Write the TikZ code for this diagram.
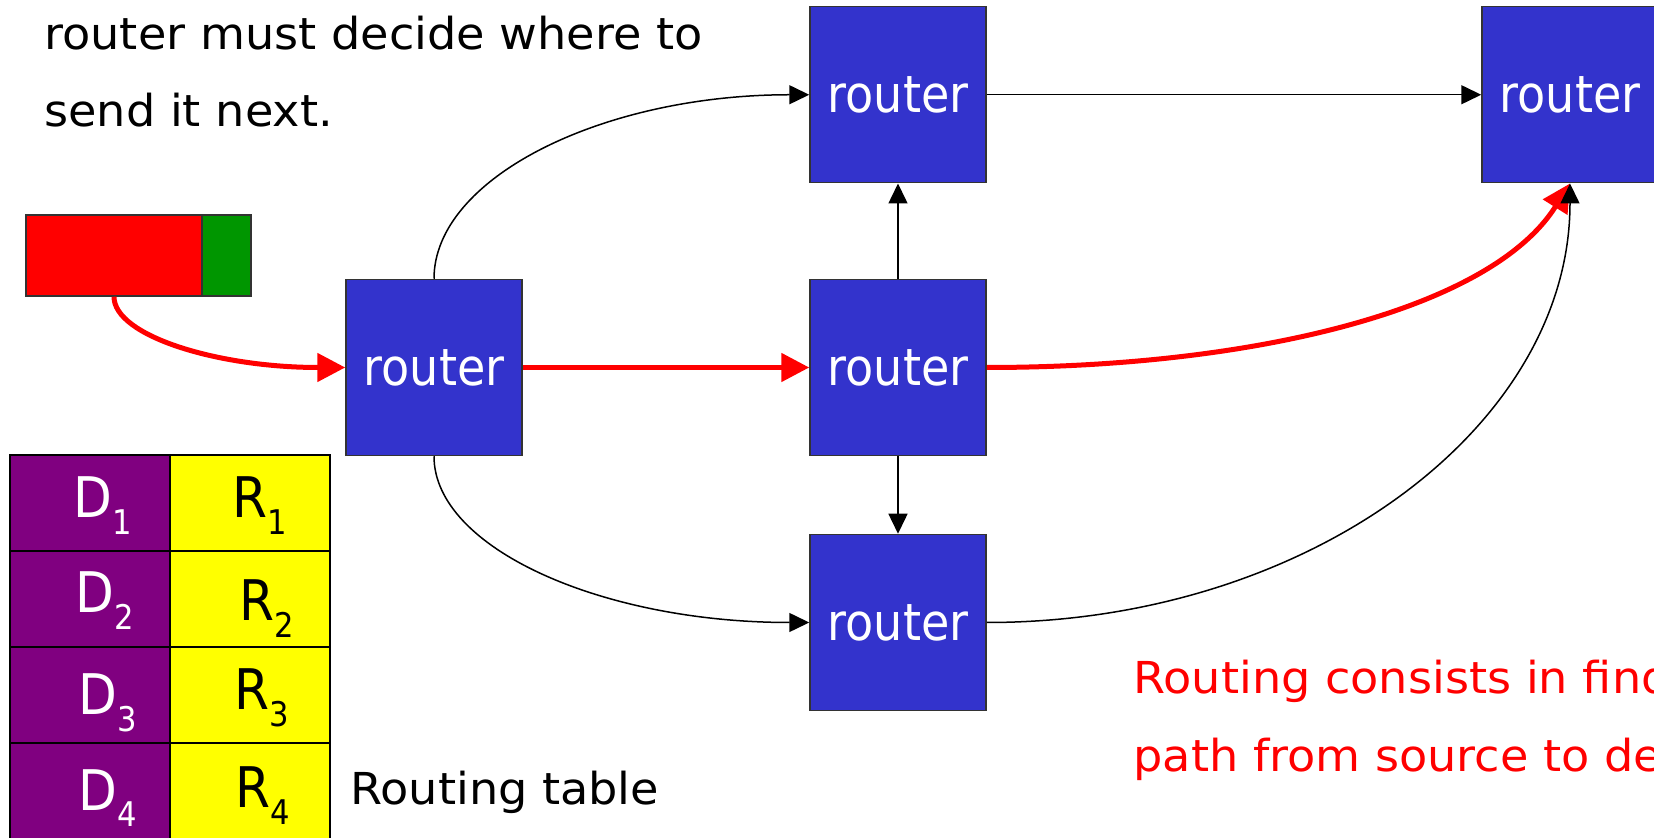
\documentclass[tikz,border=0pt]{standalone}
\usepackage{fontspec}
\setmainfont{DejaVu Sans}
\newfontfamily\slidefont[FakeStretch=1.05]{DejaVu Sans}
\newfontfamily\narrowfont[FakeStretch=0.9]{DejaVu Sans}
\usetikzlibrary{arrows.meta}
\definecolor{routerblue}{HTML}{3333CC}
\definecolor{boxedge}{HTML}{333333}
\definecolor{hdrgreen}{HTML}{009600}
\definecolor{destpurple}{HTML}{800080}
\definecolor{nextyellow}{HTML}{FFFF00}
% lowered index digit for table entries
\newcommand{\lowidx}[1]{\raisebox{-8.5pt}{\fontsize{17}{17}\selectfont #1}}
\begin{document}
\begin{tikzpicture}[x=0.5pt,y=-0.5pt,
  router/.style={draw=boxedge, line width=0.75pt, fill=routerblue,
    minimum width=88pt, minimum height=88pt, inner sep=0pt, text=white,
    font=\narrowfont\fontsize{25.6}{30}\selectfont},
  link/.style={draw=black, line width=0.75pt, -{Triangle[length=10pt,width=9.5pt]}},
  route/.style={draw=red, line width=2.5pt, -{Triangle[length=14pt,width=14pt]}},
  cell/.style={draw=black, line width=0.75pt, minimum width=80pt,
    minimum height=48pt, inner sep=0pt},
  dcell/.style={cell, fill=destpurple},
  rcell/.style={cell, fill=nextyellow},
  entry/.style={anchor=base, inner sep=0pt, font=\narrowfont\fontsize{28}{30}\selectfont},
  slidetext/.style={anchor=base west, inner sep=0pt,
    font=\slidefont\fontsize{22}{26}\selectfont}]
\useasboundingbox (0,0) rectangle (1654,838);

% explanatory text
\node[slidetext] (txtA) at (44,50) {router must decide where to};
\node[slidetext] (txtB) at (44,127) {send it next.};

% packet: payload and header
\node[draw=boxedge, line width=0.75pt, fill=red, minimum width=88pt,
  minimum height=40.5pt, inner sep=0pt] (payload) at (114,255.5) {};
\node[draw=boxedge, line width=0.75pt, fill=hdrgreen, minimum width=24.5pt,
  minimum height=40.5pt, inner sep=0pt] (hdr) at (226.5,255.5) {};

% routers
\node[router] (T) at (898,94.75) {router};
\node[router] (R) at (1570,94.75) {router};
\node[router] (L) at (434,367.5) {router};
\node[router] (M) at (898,367.5) {router};
\node[router] (B) at (898,622.5) {router};

% links
\draw[link] (L.north) .. controls +(0,-100.5) and +(-207.7,0) .. (T.west);
\draw[link] (L.south) .. controls +(0,91.7) and +(-207.7,0) .. (B.west);
\draw[link] (M.north) -- (T.south);
\draw[link] (M.south) -- (B.north);
\draw[link] (T.east) -- (R.west);

% path taken by the packet
\draw[route] (payload.south) .. controls +(0,39) and +(-128,0) .. (L.west);
\draw[route] (L.east) -- (M.west);
\draw[route] (M.east) .. controls +(264,0) and +(-80,127) .. (R.south);

\draw[link] (B.east) .. controls +(322.5,0) and +(0,243) .. (R.south);

% routing table
\node[dcell] (d1) at (90,503) {};
\node[rcell] (r1) at (250,503) {};
\node[dcell] (d2) at (90,599) {};
\node[rcell] (r2) at (250,599) {};
\node[dcell] (d3) at (90,695) {};
\node[rcell] (r3) at (250,695) {};
\node[dcell] (d4) at (90,791) {};
\node[rcell] (r4) at (250,791) {};

\node[entry, text=white] (d1t) at (103,518) {D\lowidx{1}};
\node[entry, text=white] (d2t) at (105,613) {D\lowidx{2}};
\node[entry, text=white] (d3t) at (108,715) {D\lowidx{3}};
\node[entry, text=white] (d4t) at (108,810) {D\lowidx{4}};
\node[entry] (r1t) at (260,518) {R\lowidx{1}};
\node[entry] (r2t) at (267,621) {R\lowidx{2}};
\node[entry] (r3t) at (262,710) {R\lowidx{3}};
\node[entry] (r4t) at (263,807) {R\lowidx{4}};

\node[slidetext] (tablelabel) at (350,805) {Routing table};

% conclusion
\node[slidetext, text=red] (conclA) at (1133,694) {Routing consists in finding a};
\node[slidetext, text=red] (conclB) at (1133,771) {path from source to destination};
\end{tikzpicture}
\end{document}
